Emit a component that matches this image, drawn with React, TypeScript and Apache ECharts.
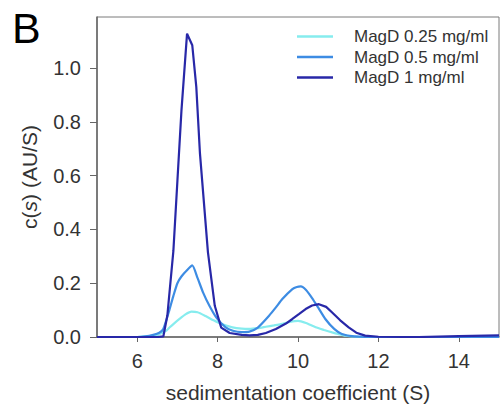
import React, { useEffect, useRef } from "react";
import * as echarts from "echarts";

const seriesNames = ["MagD 0.25 mg/ml", "MagD 0.5 mg/ml", "MagD 1 mg/ml"];
const seriesColors = ["#86ecee", "#3d8ce3", "#2828a8"];

// sedimentation coefficient (S), c(s)
const lowS = [5.0, 6.0, 6.3, 6.5, 6.73, 6.81, 6.9, 7.06, 7.2, 7.35, 7.5, 7.7, 7.9, 8.1, 8.37, 8.6, 8.79, 9.0, 9.2, 9.4, 9.61, 9.8, 10.0, 10.2, 10.44, 10.65, 10.85, 11.0, 11.18, 11.5, 12.0, 13.0, 14.0, 15.0];
const lowC = [0.0, 0.0, 0.003, 0.008, 0.024, 0.036, 0.048, 0.068, 0.084, 0.094, 0.092, 0.078, 0.062, 0.048, 0.036, 0.031, 0.03, 0.033, 0.038, 0.043, 0.049, 0.056, 0.06, 0.052, 0.036, 0.026, 0.017, 0.011, 0.005, 0.001, 0.0, 0.0, 0.0, 0.0];

const midS = [5.0, 6.0, 6.2, 6.4, 6.55, 6.65, 6.8, 6.9, 7.0, 7.1, 7.25, 7.37, 7.5, 7.64, 7.8, 7.97, 8.2, 8.38, 8.6, 8.79, 9.0, 9.28, 9.45, 9.61, 9.86, 9.97, 10.07, 10.2, 10.35, 10.5, 10.68, 10.9, 11.09, 11.4, 12.0, 13.0, 14.0, 15.0];
const midC = [0.0, 0.0, 0.002, 0.008, 0.016, 0.03, 0.1, 0.153, 0.2, 0.225, 0.25, 0.266, 0.22, 0.165, 0.115, 0.072, 0.036, 0.023, 0.018, 0.02, 0.035, 0.079, 0.11, 0.141, 0.178, 0.186, 0.188, 0.175, 0.145, 0.11, 0.067, 0.03, 0.011, 0.002, 0.0, 0.0, 0.0, 0.0];

const highS = [5.0, 6.0, 6.5, 6.65, 6.75, 6.9, 7.0, 7.1, 7.24, 7.37, 7.47, 7.56, 7.76, 7.93, 8.09, 8.3, 8.6, 8.8, 9.0, 9.2, 9.45, 9.7, 9.86, 10.03, 10.19, 10.35, 10.52, 10.7, 10.85, 11.05, 11.26, 11.45, 11.67, 12.0, 13.0, 14.0, 15.0];
const highC = [0.0, 0.0, 0.0, 0.002, 0.08, 0.32, 0.58, 0.84, 1.128, 1.085, 0.93, 0.685, 0.315, 0.116, 0.035, 0.015, 0.008, 0.006, 0.008, 0.015, 0.03, 0.05, 0.067, 0.086, 0.104, 0.117, 0.122, 0.112, 0.091, 0.062, 0.036, 0.016, 0.005, 0.001, 0.0, 0.003, 0.006];

const xTicks = [6, 8, 10, 12, 14];
const yTicks = [0, 0.2, 0.4, 0.6, 0.8, 1.0];

const zip = (xs: number[], ys: number[]) => xs.map((x, i) => [x, ys[i]]);

export default function App() {
  const ref = useRef<HTMLDivElement>(null);
  useEffect(() => {
    if (!ref.current) return;
    const chart = echarts.init(ref.current, null, { renderer: "svg" });
    const font = "Liberation Sans, Arial, sans-serif";
    const data = [zip(lowS, lowC), zip(midS, midC), zip(highS, highC)];
    chart.setOption({
      animation: false,
      grid: {
        left: 97,
        right: 2,
        top: 17,
        bottom: 70,
        show: true,
        borderColor: "#7a7a7a",
        borderWidth: 1,
      },
      legend: {
        orient: "vertical",
        left: 292,
        top: 23,
        icon: "rect",
        itemWidth: 36,
        itemHeight: 2.5,
        itemGap: 3.5,
        data: seriesNames,
        textStyle: { fontFamily: font, fontSize: 17, color: "#333", padding: [0, 0, 0, 16] },
      },
      xAxis: {
        type: "value",
        min: 5,
        max: 15,
        name: "sedimentation coefficient (S)",
        nameLocation: "middle",
        nameGap: 45,
        nameTextStyle: { fontFamily: font, fontSize: 21, color: "#333" },
        splitLine: { show: false },
        axisLine: { show: true, lineStyle: { color: "#666", width: 1.5 } },
        axisTick: { show: true, length: 5, customValues: xTicks, lineStyle: { color: "#666" } },
        axisLabel: {
          customValues: xTicks,
          margin: 14,
          fontFamily: font,
          fontSize: 20,
          color: "#333",
        },
      },
      yAxis: {
        type: "value",
        min: 0,
        max: 1.19,
        name: "{n|c(}{i|s}{n|) (AU/S)}",
        nameLocation: "middle",
        nameGap: 57,
        nameRotate: 90,
        nameTextStyle: {
          rich: {
            n: { fontFamily: font, fontSize: 21, color: "#333" },
            i: { fontFamily: font, fontSize: 21, color: "#333", fontStyle: "italic" },
          },
        },
        splitLine: { show: false },
        axisLine: { show: true, lineStyle: { color: "#666", width: 1.5 } },
        axisTick: { show: true, length: 7, customValues: yTicks, lineStyle: { color: "#666" } },
        axisLabel: {
          customValues: yTicks,
          margin: 16,
          fontFamily: font,
          fontSize: 20,
          color: "#333",
          formatter: (v: number) => v.toFixed(1),
        },
      },
      graphic: [
        {
          type: "text",
          left: 12,
          top: 6,
          style: { text: "B", fontFamily: font, fontSize: 43, fill: "#000" },
        },
      ],
      series: seriesNames.map((name, i) => ({
        name,
        type: "line",
        data: data[i],
        symbol: "none",
        smooth: i === 2 ? false : 0.2,
        z: i + 2,
        lineStyle: { color: seriesColors[i], width: 2.2 },
        itemStyle: { color: seriesColors[i] },
      })),
    });
    return () => chart.dispose();
  }, []);
  return (
    <div
      ref={ref}
      style={{ position: "absolute", left: 0, top: 0, width: 501, height: 408, overflow: "hidden" }}
    />
  );
}
